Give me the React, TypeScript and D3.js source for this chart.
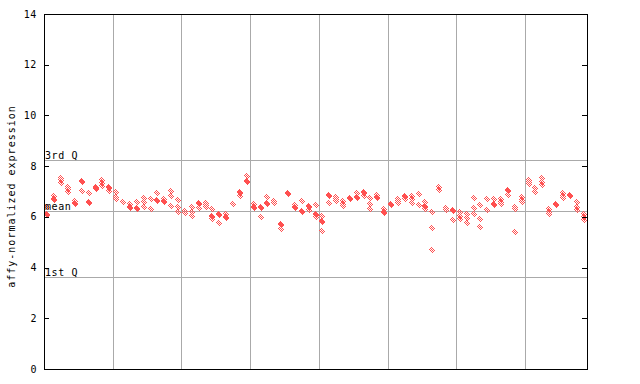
import React from "react";
import * as d3 from "d3";

// replicate values per sample (x = sample index)
const sampleValues: number[][] = [
  [6.37, 6.13, 6.09], [6.84, 6.72, 6.68], [7.54, 7.45, 7.32], [7.19, 7.10, 6.99], [6.64, 6.53, 6.49],
  [7.41, 7.37, 7.02], [6.93, 6.58, 6.54], [7.19, 7.12, 7.08], [7.45, 7.35, 7.23], [7.17, 7.13, 7.02],
  [6.99, 6.79, 6.69], [6.57], [6.50, 6.37, 6.33], [6.57, 6.34, 6.30], [6.73, 6.57, 6.37],
  [6.70, 6.31], [6.93, 6.66, 6.62], [6.70, 6.62, 6.58], [7.03, 6.82, 6.41], [6.66, 6.40, 6.20],
  [6.24, 6.17], [6.40, 6.20, 6.03], [6.53, 6.49, 6.36], [6.53, 6.45, 6.38], [6.31, 6.02, 5.98, 5.90],
  [6.10, 6.06, 5.74], [6.11, 5.99, 5.95], [6.51], [6.99, 6.95, 6.84], [7.61, 7.41, 7.37],
  [6.51, 6.40, 6.36], [6.38, 6.34, 5.98], [6.77, 6.55, 6.51], [6.62, 6.53], [5.70, 5.66, 5.53],
  [6.95, 6.91], [6.47, 6.40, 6.34], [6.61, 6.22, 6.18], [6.42, 6.38, 6.27], [6.45, 6.12, 6.08, 6.00],
  [6.03, 5.83, 5.79, 5.44], [6.86, 6.82, 6.54], [6.80, 6.70, 6.62], [6.64, 6.52, 6.42], [6.75, 6.71],
  [6.96, 6.79, 6.75], [6.98, 6.94, 6.82], [6.73, 6.51, 6.30], [6.86, 6.78, 6.74], [6.30, 6.18, 6.14],
  [6.51, 6.47], [6.69, 6.61, 6.53], [6.81, 6.77, 6.69], [6.84, 6.69, 6.53], [6.90, 6.47],
  [6.58, 6.42, 6.38, 6.30], [6.20, 5.55, 4.69], [7.19, 7.06], [6.33, 6.29], [6.29, 6.25, 5.87],
  [6.18, 6.05, 5.91], [6.10, 5.94, 5.75], [6.73, 6.33, 6.10], [6.47, 5.91, 5.59], [6.70, 6.26],
  [6.70, 6.49, 6.45], [6.70, 6.60, 6.49], [7.05, 7.01, 6.86], [6.38, 6.31, 5.41], [6.77, 6.66, 6.59],
  [7.45, 7.36, 7.28], [7.15, 6.99], [7.52, 7.38, 7.26], [6.30, 6.20, 6.11], [6.51, 6.47],
  [6.96, 6.82, 6.73], [6.86, 6.82], [6.57, 6.40, 6.27], [6.11, 6.01, 5.87],
];

const yTicks = [0, 2, 4, 6, 8, 10, 12, 14];
const gridEvery = 10;
const refLines = [
  { label: "3rd Q", value: 8.24 },
  { label: "mean", value: 6.23 },
  { label: "1st Q", value: 3.63 },
];
const yTitle = "affy-normalized expression";

const W = 640, H = 384;
const left = 44, right = 587, top = 14, bottom = 369;
const RED = "#ff5050";
const MONO = "'DejaVu Sans Mono', monospace";

export default function App() {
  const n = sampleValues.length;
  const x = d3.scaleBand<number>().domain(d3.range(n)).range([left, right]).paddingInner(0).paddingOuter(0);
  const y = d3.scaleLinear().domain([0, 14]).range([bottom, top]);
  const bw = x.bandwidth();
  const gridIdx = d3.range(gridEvery, n, gridEvery);

  const points: { cx: number; cy: number; key: string }[] = [];
  sampleValues.forEach((vals, i) => {
    vals.forEach((v, j) => {
      points.push({ cx: Math.round((x(i) as number) + bw / 2), cy: Math.round(y(v)), key: `${i}-${j}` });
    });
  });

  const r = 3.5;
  const diamond = `M0,${-r}L${r},0L0,${r}L${-r},0Z`;

  return (
    <svg width={W} height={H} style={{ position: "absolute", left: 0, top: 0, background: "#fff" }}>
      <defs>
        <pattern id="chk" width={2} height={2} patternUnits="userSpaceOnUse">
          <rect x={0} y={0} width={1} height={1} fill={RED} />
          <rect x={1} y={1} width={1} height={1} fill={RED} />
        </pattern>
      </defs>
      <rect x={0} y={0} width={W} height={H} fill="#fff" />
      {gridIdx.map((g) => (
        <line key={"g" + g} x1={Math.round(x(g) as number) + 0.5} x2={Math.round(x(g) as number) + 0.5}
          y1={top} y2={bottom} stroke="#aaaaaa" strokeWidth={1} />
      ))}
      {refLines.map((rl) => (
        <line key={rl.label} x1={left} x2={right} y1={Math.round(y(rl.value)) + 0.5} y2={Math.round(y(rl.value)) + 0.5}
          stroke="#aaaaaa" strokeWidth={1} />
      ))}
      <g shapeRendering="crispEdges">
        {points.map((p) => (
          <g key={p.key} transform={`translate(${p.cx},${p.cy})`}>
            <path d={diamond} fill="url(#chk)" />
          </g>
        ))}
      </g>
      {refLines.map((rl) => (
        <text key={"t" + rl.label} x={left + 1} y={Math.round(y(rl.value)) - 1}
          fontFamily={MONO} fontSize={10} letterSpacing={0.6} fill="#000">{rl.label}</text>
      ))}
      <rect x={left + 0.5} y={top + 0.5} width={right - left} height={bottom - top} fill="none" stroke="#000" strokeWidth={1} />
      {yTicks.map((t) => (
        <g key={"yt" + t}>
          <line x1={left} x2={left + 5} y1={Math.round(y(t)) + 0.5} y2={Math.round(y(t)) + 0.5} stroke="#000" />
          <line x1={right - 5} x2={right} y1={Math.round(y(t)) + 0.5} y2={Math.round(y(t)) + 0.5} stroke="#000" />
          <text x={37} y={y(t)} dy="0.35em" textAnchor="end" fontFamily={MONO} fontSize={10} letterSpacing={0.6} fill="#000">{t}</text>
        </g>
      ))}
      <text transform={`translate(15,${(top + bottom) / 2 + 5}) rotate(-90)`} textAnchor="middle"
        fontFamily={MONO} fontSize={10} letterSpacing={1.0} fill="#000">{yTitle}</text>
    </svg>
  );
}
